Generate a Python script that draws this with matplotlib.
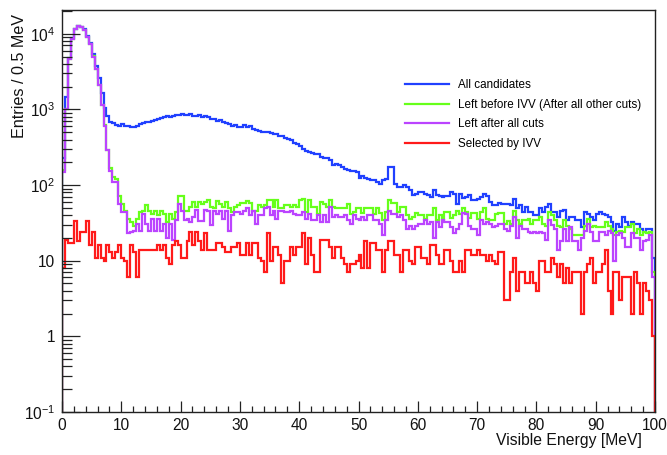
import numpy as np
import matplotlib
matplotlib.use("Agg")
import matplotlib.pyplot as plt
from matplotlib.ticker import MultipleLocator, FixedLocator, FixedFormatter, LogLocator, NullFormatter

plt.rcParams["font.family"] = ["Liberation Sans", "DejaVu Sans"]
plt.rcParams["mathtext.fontset"] = "custom"
plt.rcParams["mathtext.rm"] = "Liberation Sans"
plt.rcParams["mathtext.default"] = "regular"

# Visible energy binning: 0-100 MeV in 0.5 MeV bins
bin_edges = np.linspace(0.0, 100.0, 201)

all_candidates = [
    230, 1450, 4800, 8700, 11700, 12700, 12400, 11400, 9300, 7500,
    5400, 3800, 2600, 1650, 1050, 820, 690, 660, 630, 610,
    640, 600, 600, 590, 590, 600, 650, 660, 680, 680,
    710, 720, 750, 780, 790, 810, 800, 830, 850, 840,
    860, 850, 840, 870, 830, 820, 840, 800, 810, 800,
    757, 757, 704, 734, 680, 660, 650, 610, 625, 580,
    585, 620, 580, 610, 545, 530, 520, 504, 504, 504,
    489, 479, 469, 441, 441, 425, 411, 399, 360, 346,
    326, 303, 282, 274, 265, 260, 255, 235, 230, 230,
    217, 182, 192, 182, 173, 165, 160, 153, 153, 150,
    125, 130, 125, 121, 115, 118, 110, 104, 115, 121,
    174, 174, 104, 94, 94, 99, 94, 85, 73, 77,
    81, 81, 77, 73, 69, 85, 73, 71, 69, 71,
    71, 81, 77, 57, 77, 68, 69, 73, 63, 64,
    66, 69, 77, 71, 60, 54, 54, 58, 57, 57,
    57, 54, 66, 49, 54, 44, 51, 44, 44, 40,
    40, 49, 44, 51, 57, 44, 44, 38, 46, 47,
    34, 38, 38, 34, 34, 28, 44, 42, 38, 34,
    42, 44, 42, 40, 38, 32, 25, 31, 28, 38,
    32, 29, 32, 31, 31, 26, 24, 26, 26, 11,
]

before_ivv = [
    158, 1020, 4620, 8620, 11630, 12520, 12320, 11220, 9130, 7420,
    5020, 3410, 2100, 1160, 620, 294, 170, 128, 121, 71,
    57, 46, 36, 32, 29, 36, 44, 46, 55, 46,
    41, 46, 40, 46, 42, 32, 42, 36, 44, 71,
    71, 46, 46, 51, 60, 51, 60, 57, 60, 63,
    52, 49, 61, 57, 52, 60, 49, 44, 52, 55,
    58, 58, 61, 58, 46, 46, 54, 52, 55, 64,
    64, 51, 63, 49, 49, 54, 54, 51, 54, 51,
    63, 65, 44, 64, 51, 51, 42, 60, 57, 51,
    64, 51, 50, 50, 50, 49, 57, 42, 44, 49,
    49, 43, 50, 49, 49, 42, 49, 43, 34, 44,
    63, 58, 58, 44, 51, 51, 40, 36, 38, 43,
    40, 40, 36, 40, 40, 49, 34, 40, 34, 44,
    44, 37, 40, 46, 41, 49, 44, 37, 43, 43,
    36, 44, 49, 36, 34, 35, 41, 43, 43, 31,
    33, 31, 46, 34, 31, 34, 34, 36, 31, 34,
    34, 38, 31, 29, 44, 40, 34, 29, 28, 34,
    29, 26, 22, 22, 22, 22, 29, 36, 28, 29,
    28, 28, 28, 32, 29, 26, 22, 24, 25, 24,
    28, 28, 31, 23, 26, 22, 24, 23, 24, 7,
]

after_all_cuts = [
    150, 1000, 4600, 8600, 11600, 12500, 12300, 11200, 9100, 7400,
    5000, 3400, 2080, 1140, 600, 288, 154, 110, 110, 57,
    44, 44, 23, 24, 25, 31, 25, 42, 31, 25,
    36, 25, 36, 25, 31, 20, 31, 19, 34, 57,
    46, 34, 36, 32, 38, 47, 33, 33, 47, 46,
    30, 46, 42, 46, 36, 46, 25, 40, 44, 44,
    42, 46, 49, 40, 46, 31, 40, 40, 49, 51,
    40, 46, 36, 46, 45, 44, 44, 46, 42, 40,
    40, 44, 36, 42, 34, 34, 40, 32, 40, 32,
    52, 38, 40, 38, 38, 40, 34, 31, 40, 36,
    35, 38, 34, 40, 40, 34, 35, 31, 22, 34,
    46, 41, 41, 38, 40, 34, 26, 29, 26, 29,
    31, 31, 34, 31, 32, 20, 32, 28, 34, 32,
    32, 28, 23, 26, 31, 43, 42, 29, 26, 26,
    22, 34, 31, 32, 31, 28, 29, 31, 31, 26,
    25, 29, 38, 20, 29, 26, 26, 24, 23, 24,
    23, 24, 23, 19, 34, 30, 26, 14, 18, 26,
    18, 28, 18, 18, 14, 20, 25, 31, 24, 18,
    18, 24, 24, 22, 25, 23, 10, 22, 23, 20,
    15, 15, 23, 20, 20, 14, 18, 19, 22, 6,
]

selected_ivv = [
    8, 19, 17, 17, 33, 18, 24, 24, 33, 16,
    24, 11, 16, 11, 10, 16, 13, 11, 13, 16,
    11, 10, 6, 16, 13, 6, 14, 14, 14, 14,
    14, 14, 16, 14, 16, 11, 9, 16, 18, 16,
    11, 11, 18, 24, 16, 24, 18, 14, 23, 14,
    14, 14, 17, 17, 15, 13, 13, 15, 15, 17,
    12, 12, 17, 12, 17, 17, 11, 10, 7, 23,
    10, 15, 15, 12, 5, 10, 10, 15, 12, 15,
    15, 23, 9, 20, 12, 7, 7, 19, 19, 19,
    15, 11, 15, 15, 11, 9, 7, 9, 9, 10,
    12, 8, 18, 8, 17, 17, 14, 14, 7, 14,
    18, 18, 12, 12, 7, 14, 14, 10, 9, 15,
    15, 11, 11, 9, 16, 16, 12, 9, 9, 14,
    14, 10, 7, 7, 10, 7, 14, 14, 12, 12,
    14, 12, 12, 10, 12, 10, 9, 13, 13, 3,
    3, 7, 11, 4, 7, 7, 5, 5, 7, 5,
    4, 10, 10, 7, 7, 11, 9, 6, 9, 5,
    8, 5, 7, 7, 7, 2, 7, 9, 11, 5,
    7, 7, 9, 14, 4, 2, 7, 7, 3, 6,
    6, 6, 2, 7, 5, 2, 5, 4, 3, 1,
]

series_labels = [
    "All candidates",
    "Left before IVV (After all other cuts)",
    "Left after all cuts",
    "Selected by IVV",
]
series_colors = ["#2040ff", "#66ff1a", "#bb44ff", "#ff1a1a"]

y_ticks = [0.1, 1, 10, 100, 1000, 10000]
y_tick_labels = [r"$10^{-1}$", "1", "10", r"$10^{2}$", r"$10^{3}$", r"$10^{4}$"]

W, H = 667, 455
fig = plt.figure(figsize=(W / 100, H / 100), dpi=100)
ax = fig.add_axes([62 / W, 1 - 412 / H, (655 - 62) / W, (412 - 10) / H])

for values, color, label in zip(
    [all_candidates, before_ivv, after_all_cuts, selected_ivv], series_colors, series_labels
):
    ax.stairs(values, bin_edges, baseline=1e-3, color=color, lw=1.6, label=label)

ax.set_yscale("log")
ax.set_xlim(0, 100)
ax.set_ylim(0.1, 2.06e4)

ax.xaxis.set_major_locator(MultipleLocator(10))
ax.xaxis.set_minor_locator(MultipleLocator(2))
ax.yaxis.set_major_locator(FixedLocator(y_ticks))
ax.yaxis.set_major_formatter(FixedFormatter(y_tick_labels))
ax.yaxis.set_minor_locator(LogLocator(base=10, subs=np.arange(2, 10)))
ax.yaxis.set_minor_formatter(NullFormatter())

ax.tick_params(axis="both", which="both", direction="in", top=False, right=False,
               width=0.9, color="#222222", labelsize=11.2, labelcolor="#111111")
ax.tick_params(axis="x", which="major", length=8, pad=4)
ax.tick_params(axis="x", which="minor", length=4.3)
ax.tick_params(axis="y", which="major", length=13, pad=5)
ax.tick_params(axis="y", which="minor", length=7)

for spine in ax.spines.values():
    spine.set_linewidth(1.0)
    spine.set_color("#222222")

fig.text(20 / W, 1 - 14 / H, "Entries / 0.5 MeV", rotation=90, ha="center", va="top",
         fontsize=11.6, color="#111111")
fig.text(642 / W, 1 - 440 / H, "Visible Energy [MeV]", ha="right", va="center",
         fontsize=11.3, color="#111111")

ax.legend(loc="upper left", bbox_to_anchor=(0.578, 0.828), frameon=False,
          fontsize=8.4, handlelength=3.77, handletextpad=0.77, labelspacing=0.65,
          borderpad=0, borderaxespad=0)

fig.savefig("out.png", dpi=100)
